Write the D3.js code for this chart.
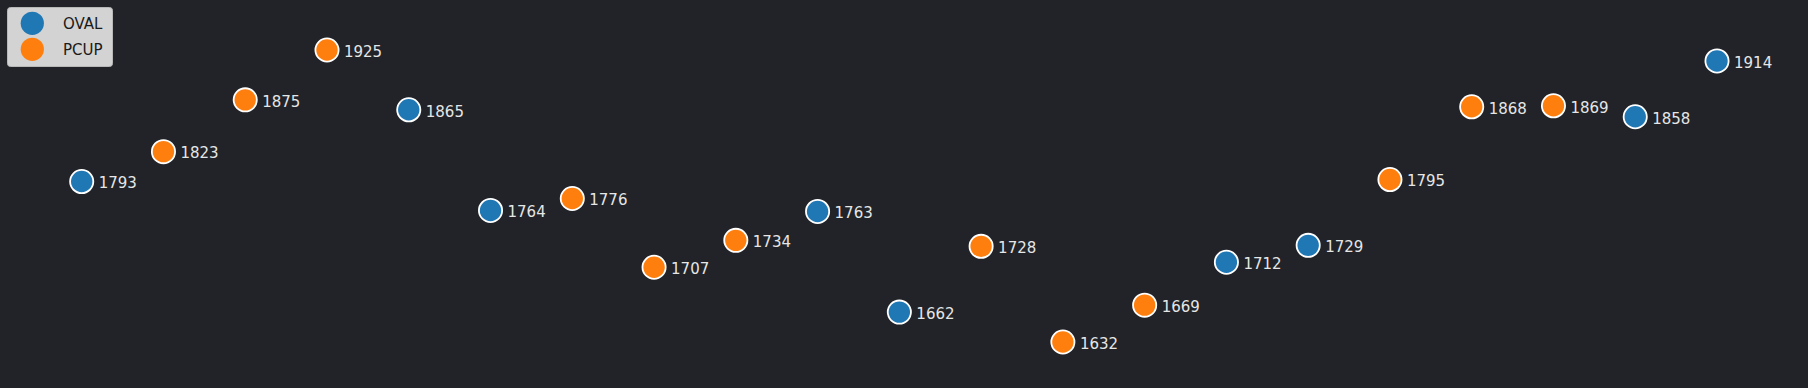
<!DOCTYPE html>
<html>
<head>
<meta charset="utf-8">
<script src="https://cdn.jsdelivr.net/npm/d3@7"></script>
<style>
  html, body { margin: 0; padding: 0; background: #212328; }
  svg { display: block; }
</style>
</head>
<body>
<div id="chart"></div>
<script>
// data, left to right
var values = [1793, 1823, 1875, 1925, 1865, 1764, 1776, 1707, 1734, 1763, 1662,
              1728, 1632, 1669, 1712, 1729, 1795, 1868, 1869, 1858, 1914];
var groups = ["OVAL", "PCUP", "PCUP", "PCUP", "OVAL", "OVAL", "PCUP", "PCUP", "PCUP", "OVAL", "OVAL",
              "PCUP", "PCUP", "PCUP", "OVAL", "OVAL", "PCUP", "PCUP", "PCUP", "OVAL", "OVAL"];
var legendNames = ["OVAL", "PCUP"];

var width = 1808, height = 388;

var svg = d3.select("#chart")
  .append("svg")
  .attr("width", width)
  .attr("height", height);

svg.append("rect")
  .attr("width", width)
  .attr("height", height)
  .attr("fill", "#212328");

// scales
var x = d3.scaleLinear()
  .domain([0, values.length - 1])
  .range([81.7, 1717]);

var y = d3.scaleLinear()
  .domain([1632, 1925])
  .range([342, 50]);

var color = d3.scaleOrdinal()
  .domain(legendNames)
  .range(["#1f77b4", "#ff7f0e"]);

// points
svg.append("g")
  .selectAll("circle")
  .data(values)
  .enter()
  .append("circle")
    .attr("cx", function(d, i) { return x(i); })
    .attr("cy", function(d) { return y(d); })
    .attr("r", 11.6)
    .attr("fill", function(d, i) { return color(groups[i]); })
    .attr("stroke", "white")
    .attr("stroke-width", 1.8);

// labels beside points
svg.append("g")
  .selectAll("text")
  .data(values)
  .enter()
  .append("text")
    .attr("x", function(d, i) { return x(i) + 17; })
    .attr("y", function(d) { return y(d); })
    .attr("dy", "0.45em")
    .text(function(d) { return d; })
    .attr("fill", "#e6e6e6")
    .style("font-family", "DejaVu Sans, sans-serif")
    .style("font-size", "15px");

// legend
var legend = svg.append("g");
legend.append("rect")
  .attr("x", 7.5)
  .attr("y", 7.5)
  .attr("width", 105)
  .attr("height", 59)
  .attr("rx", 3)
  .attr("fill", "#d3d3d3")
  .attr("stroke", "#b8b8b8")
  .attr("stroke-width", 1);

legend.selectAll("circle")
  .data(legendNames)
  .enter()
  .append("circle")
    .attr("cx", 32.3)
    .attr("cy", function(d, i) { return 23.3 + i * 26; })
    .attr("r", 11.6)
    .attr("fill", function(d) { return color(d); });

legend.selectAll("text")
  .data(legendNames)
  .enter()
  .append("text")
    .attr("x", 63)
    .attr("y", function(d, i) { return 23.3 + i * 26; })
    .attr("dy", "0.4em")
    .text(function(d) { return d; })
    .attr("fill", "#1a1a1a")
    .style("font-family", "DejaVu Sans, sans-serif")
    .style("font-size", "15px");
</script>
</body>
</html>
